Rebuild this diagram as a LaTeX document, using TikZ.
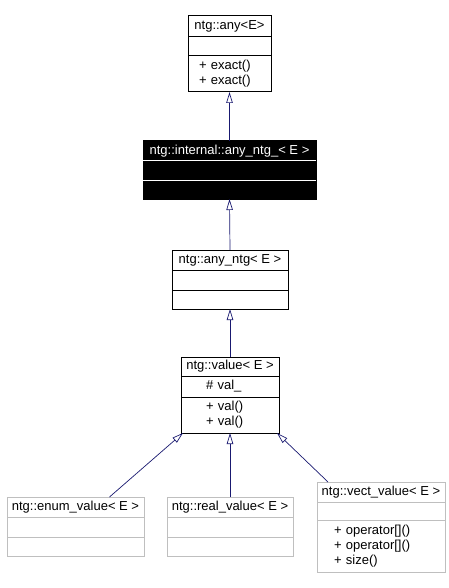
\documentclass[tikz,border=0pt]{standalone}
\usepackage{fontspec}
\setmainfont{Liberation Sans}
\usetikzlibrary{positioning, arrows.meta}
\definecolor{edgeblue}{RGB}{25,25,112}
\definecolor{greyline}{RGB}{191,191,191}

\begin{document}
\begin{tikzpicture}[
    % GLOBAL CFG
    x=1pt, y=-1pt,
    font=\fontsize{13}{15}\selectfont,
    % Styles
    part/.style={% For one compartment of a class box
        rectangle,
        draw,
        line width=1pt,
        inner sep=0pt,
        outer sep=0pt,
        align=center,
        },
    members/.style={% For attributes and operations, left aligned
        part,
        align=left,
        },
    shown/.style={% For the class of this page
        part,
        fill=black,
        text=white,
        },
    faded/.style={% For classes without documentation
        part,
        draw=greyline,
        },
    inherit/.style={% Arrows to the base class
        edgeblue,
        line width=0.7pt,
        -{Triangle[open, length=11pt, width=6.5pt]},
        },
    ]
\useasboundingbox (0,0) rectangle (449,588);

% Draw the base class ntg::any
\node [part, minimum width=83pt, minimum height=21pt] (any) at (229.5,26.5) {ntg::any<E>};
\node [part, minimum width=83pt, minimum height=19pt, below=0pt of any] (anyAttr) {};
\node [members, text width=61pt, inner xsep=11pt, minimum height=36pt, below=0pt of anyAttr] (anyOps) {+ exact()\\+ exact()};

% Draw the class of this page, in black
\node [shown, minimum width=173pt, minimum height=20pt] (intl) at (229.5,151) {ntg::internal::any\_ntg\_< E >};
\node [shown, minimum width=173pt, minimum height=19pt, below=0pt of intl] (intlAttr) {};
\node [shown, minimum width=173pt, minimum height=19pt, below=0pt of intlAttr] (intlOps) {};
\draw [white, line width=1pt] (intl.south west) -- (intl.south east);
\draw [white, line width=1pt] (intlAttr.south west) -- (intlAttr.south east);

% Draw ntg::any_ntg
\node [part, minimum width=116pt, minimum height=20pt] (anyNtg) at (230,260) {ntg::any\_ntg< E >};
\node [part, minimum width=116pt, minimum height=20pt, below=0pt of anyNtg] (anyNtgAttr) {};
\node [part, minimum width=116pt, minimum height=19pt, below=0pt of anyNtgAttr] (anyNtgOps) {};

% Draw ntg::value
\node [part, minimum width=98pt, minimum height=19pt] (value) at (230,366.5) {ntg::value< E >};
\node [members, text width=48pt, inner xsep=25pt, minimum height=21pt, below=0pt of value] (valueAttr) {\# val\_};
\node [members, text width=48pt, inner xsep=25pt, minimum height=36pt, below=0pt of valueAttr] (valueOps) {+ val()\\+ val()};

% Draw the derived classes in grey
\node [faded, minimum width=137pt, minimum height=20pt] (enum) at (75.5,507) {ntg::enum\_value< E >};
\node [faded, minimum width=137pt, minimum height=20pt, below=0pt of enum] (enumAttr) {};
\node [faded, minimum width=137pt, minimum height=19pt, below=0pt of enumAttr] (enumOps) {};

\node [faded, minimum width=126pt, minimum height=20pt] (real) at (230,507) {ntg::real\_value< E >};
\node [faded, minimum width=126pt, minimum height=20pt, below=0pt of real] (realAttr) {};
\node [faded, minimum width=126pt, minimum height=19pt, below=0pt of realAttr] (realOps) {};

\node [faded, minimum width=128pt, minimum height=20pt] (vect) at (381,492) {ntg::vect\_value< E >};
\node [faded, minimum width=128pt, minimum height=18pt, below=0pt of vect] (vectAttr) {};
\node [faded, members, text width=94pt, inner xsep=17pt, minimum height=52pt, below=0pt of vectAttr] (vectOps) {+ operator[]()\\+ operator[]()\\+ size()};

% Inheritance arrows
\draw [inherit] (intl.north) -- (anyOps.south);
\draw [inherit] (anyNtg.north) -- (intlOps.south);
\draw [inherit] (value.north) -- (anyNtgOps.south);
\draw [inherit] ([xshift=34pt]enum.north) -- ([xshift=2pt]valueOps.south west);
\draw [inherit] (real.north) -- (valueOps.south);
\draw [inherit] ([xshift=11pt]vect.north west) -- ([xshift=-2pt]valueOps.south east);

\end{tikzpicture}
\end{document}
